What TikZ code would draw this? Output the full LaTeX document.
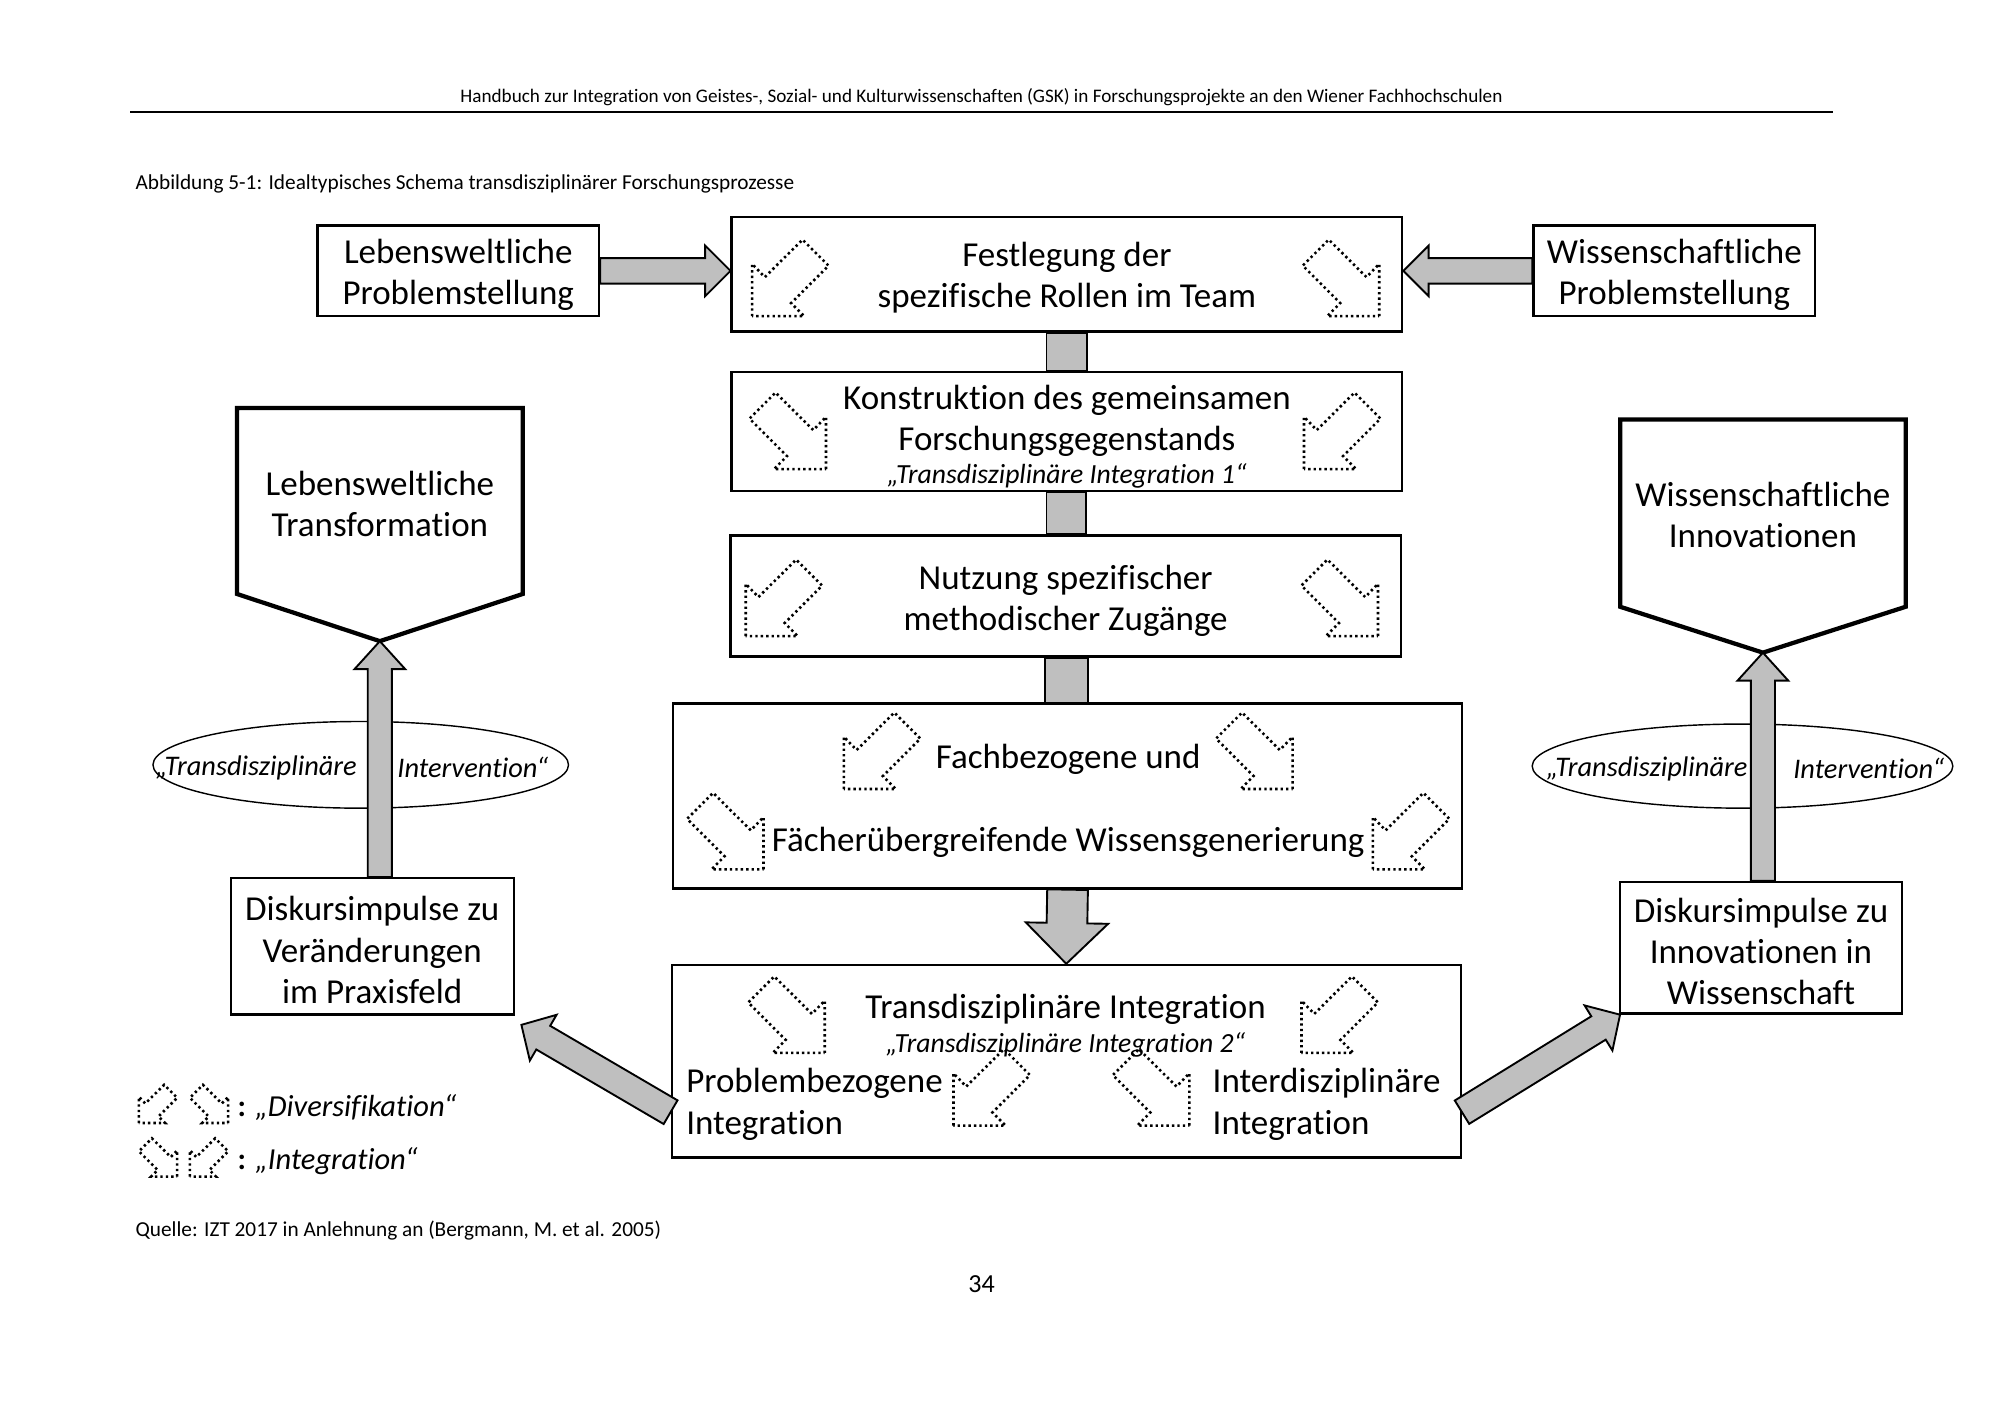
\documentclass[tikz,border=0pt]{standalone}
\usepackage{fontspec}
\setmainfont{Carlito}[Ligatures=NoCommon]
\usetikzlibrary{shapes.geometric,calc}
\newlength\pu
\setlength\pu{0.018929cm}
% gray block arrow between two named points: start, end, shaft half, head half, head length (pt)
\newcommand\blockarr[5]{%
  \path (#1); \pgfgetlastxy{\bax}{\bay}%
  \path (#2); \pgfgetlastxy{\bbx}{\bby}%
  \pgfmathsetmacro\baang{atan2(\bby-\bay,\bbx-\bax)}%
  \pgfmathsetmacro\balen{veclen(\bbx-\bax,\bby-\bay)}%
  \pgfmathsetmacro\bahb{\balen-#5}%
  \draw[grayarrow, shift={(\bax,\bay)}, rotate=\baang]
    (0pt,#3pt) -- (\bahb pt,#3pt) -- (\bahb pt,#4pt) -- (\balen pt,0pt)
    -- (\bahb pt,-#4pt) -- (\bahb pt,-#3pt) -- (0pt,-#3pt) -- cycle;%
}
\begin{document}
\begin{tikzpicture}[x=0.018929cm,y=-0.018929cm,
  box/.style={draw, line width=1pt, fill=white, inner sep=0pt},
  txt/.style={inner sep=0pt, align=center, yshift=-1.6pt, font=\fontsize{14.8}{17.5}\selectfont},
  ital/.style={inner sep=0pt, yshift=-1.3pt, font=\fontsize{11.7}{13}\selectfont\itshape},
  etxt/.style={inner sep=0pt, yshift=-1.1pt, font=\fontsize{12}{14}\selectfont\itshape},
  penta/.style={draw, line width=1.8pt, fill=white, line join=miter},
  grayarrow/.style={draw=black, line width=0.8pt, fill=black!25, line join=miter},
  dotline/.style={line width=1.1pt, dash pattern=on 1pt off 1.3pt},
  ell/.style={ellipse, draw, line width=0.6pt, inner sep=0pt},
  darr/.pic={\draw[dotline] (-30,30) -- (-30,-11) -- (-20,-0.6) -- (9.6,-30) -- (30,-9.6) -- (0.6,19.8) -- (10.8,30) -- cycle;},
  small/.style={inner sep=0pt, yshift=-1.1pt, font=\fontsize{9}{11}\selectfont},
]
\useasboundingbox (0,0) rectangle (1569,1109);

% header
\node[small, font=\fontsize{8.1}{10}\selectfont] (head) at (770,74) {Handbuch zur Integration von Geistes-, Sozial- und Kulturwissenschaften (GSK) in Forschungsprojekte an den Wiener Fachhochschulen};
\coordinate (hl) at (102,88);
\coordinate (hr) at (1438,88);
\draw[line width=0.9pt] (hl) -- (hr);
\node[small, anchor=west] (cap) at (106,142) {Abbildung 5-1: Idealtypisches Schema transdisziplinärer Forschungsprozesse};

% top row
\node[box, minimum width=221*\pu, minimum height=71*\pu] (lp) at (359.5,212.5) {};
\node[txt] (lpt) at (lp) {Lebensweltliche\\Problemstellung};
\node[box, minimum width=526*\pu, minimum height=90*\pu] (fest) at (837,215) {};
\node[txt] (festt) at (fest) {Festlegung der\\spezifische Rollen im Team};
\node[box, minimum width=221*\pu, minimum height=71*\pu] (wp) at (1313.5,212.5) {};
\node[txt] (wpt) at (wp) {Wissenschaftliche\\Problemstellung};

% central boxes
\node[box, minimum width=526*\pu, minimum height=93*\pu] (kon) at (837,338.5) {};
\node[txt] (kont) at (837,327) {Konstruktion des gemeinsamen\\Forschungsgegenstands};
\node[ital] (koni) at (837,371) {„Transdisziplinäre Integration 1“};

\node[box, minimum width=526*\pu, minimum height=95*\pu] (nutz) at (836,467.5) {};
\node[txt] (nutzt) at (836,468.5) {Nutzung spezifischer\\methodischer Zugänge};

\node[box, minimum width=619*\pu, minimum height=145*\pu] (fach) at (837.5,624.5) {};
\node[txt] (facht1) at (838,593) {Fachbezogene und};
\node[txt] (facht2) at (838,658) {Fächerübergreifende Wissensgenerierung};

\node[box, minimum width=619*\pu, minimum height=151*\pu] (trans) at (836.5,832.5) {};
\node[txt] (transt) at (836,789) {Transdisziplinäre Integration};
\node[ital] (transi) at (836,817) {„Transdisziplinäre Integration 2“};
\node[txt, anchor=west, align=left] (probl) at (538,863.5) {Problembezogene\\Integration};
\node[txt, anchor=west, align=left] (inter) at (951,863.5) {Interdisziplinäre\\Integration};

% side boxes
\node[box, minimum width=222*\pu, minimum height=107*\pu] (dl) at (292,742.5) {};
\node[txt] (dlt) at (292,742.5) {Diskursimpulse zu\\Veränderungen\\im Praxisfeld};
\node[box, minimum width=221*\pu, minimum height=103*\pu] (dr) at (1381.5,743.5) {};
\node[txt] (drt) at (1381.5,743.5) {Diskursimpulse zu\\Innovationen in\\Wissenschaft};

% pentagons
\coordinate (ltip) at (298,503);
\draw[penta] (186,320) -- (410,320) -- (410,466) -- (ltip) -- (186,466) -- cycle;
\node[txt] (ltxt) at (298,392.5) {Lebensweltliche\\Transformation};
\coordinate (rtip) at (1383,512);
\draw[penta] (1271,329) -- (1495,329) -- (1495,476) -- (rtip) -- (1271,476) -- cycle;
\node[txt] (rtxt) at (1383,401) {Wissenschaftliche\\Innovationen};

% ellipses
\node[ell, minimum width=326*\pu, minimum height=68*\pu] (el) at (283,600) {};
\node[ell, minimum width=330*\pu, minimum height=66*\pu] (er) at (1367,601) {};

% gray arrows
\blockarr{lp.east}{lp.east -| fest.west}{5.37}{10.7}{10.7}
\blockarr{wp.west}{wp.west -| fest.east}{5.37}{10.7}{10.7}
\draw[grayarrow] ($(fest.south)+(-16,0)$) rectangle ($(kon.north)+(16,0)$);
\draw[grayarrow] ($(kon.south)+(-16,0)$) rectangle ($(nutz.north)+(16,0)$);
\draw[grayarrow] ($(nutz.south)+(-16,0)$) rectangle ($(fach.north)+(16,0)$);
\blockarr{fach.south}{trans.north}{8.6}{17.4}{17.2}
\blockarr{dl.north -| ltip}{ltip}{5.1}{10.7}{11.8}
\blockarr{dr.north -| rtip}{rtip}{5.1}{10.7}{11.8}
\coordinate (tl) at ($(trans.west)+(0,40)$);
\coordinate (tlend) at ($(dl.south east)+(5,7)$);
\blockarr{tl}{tlend}{5.8}{11.2}{10.7}
\coordinate (tr) at ($(trans.east)+(0,40)$);
\coordinate (trend) at ($(dr.south west)+(1,0)$);
\blockarr{tr}{trend}{5.8}{11.2}{10.7}

% ellipse texts
\node[etxt] (elt1) at (201,600) {„Transdisziplinäre};
\node[etxt] (elt2) at (371,600) {Intervention“};
\node[etxt] (ert1) at (1292,601) {„Transdisziplinäre};
\node[etxt] (ert2) at (1466,601) {Intervention“};

% dotted arrows
\pic at (620,218) {darr};
\pic[xscale=-1] at (1052,218) {darr};
\pic[xscale=-1] at (618,338) {darr};
\pic at (1053,338) {darr};
\pic at (615,469) {darr};
\pic[xscale=-1] at (1051,469) {darr};
\pic at (692,589) {darr};
\pic[xscale=-1] at (984,589) {darr};
\pic[xscale=-1] at (569,652) {darr};
\pic at (1107,652) {darr};
\pic[xscale=-1] at (617,796) {darr};
\pic at (1051,796) {darr};
\pic at (778,853) {darr};
\pic[xscale=-1] at (903,853) {darr};

% legend
\pic[scale=0.5] at (124,866) {darr};
\pic[xscale=-0.5,yscale=0.5] at (164,866) {darr};
\pic[xscale=-0.5,yscale=0.5] at (124,908) {darr};
\pic[scale=0.5] at (164,908) {darr};
\node[inner sep=0pt, anchor=west, yshift=-1.4pt, font=\fontsize{12.9}{15}\selectfont] (leg1) at (186,866) {\textbf{:} \textit{„Diversifikation“}};
\node[inner sep=0pt, anchor=west, yshift=-1.4pt, font=\fontsize{12.9}{15}\selectfont] (leg2) at (186,908) {\textbf{:} \textit{„Integration“}};

% footer
\node[small, anchor=west] (src) at (106,963) {Quelle: IZT 2017 in Anlehnung an (Bergmann, M. et al. 2005)};
\node[inner sep=0pt, yshift=-1.1pt, font=\fontsize{11}{13}\selectfont] (page) at (770,1005) {34};
\end{tikzpicture}
\end{document}
